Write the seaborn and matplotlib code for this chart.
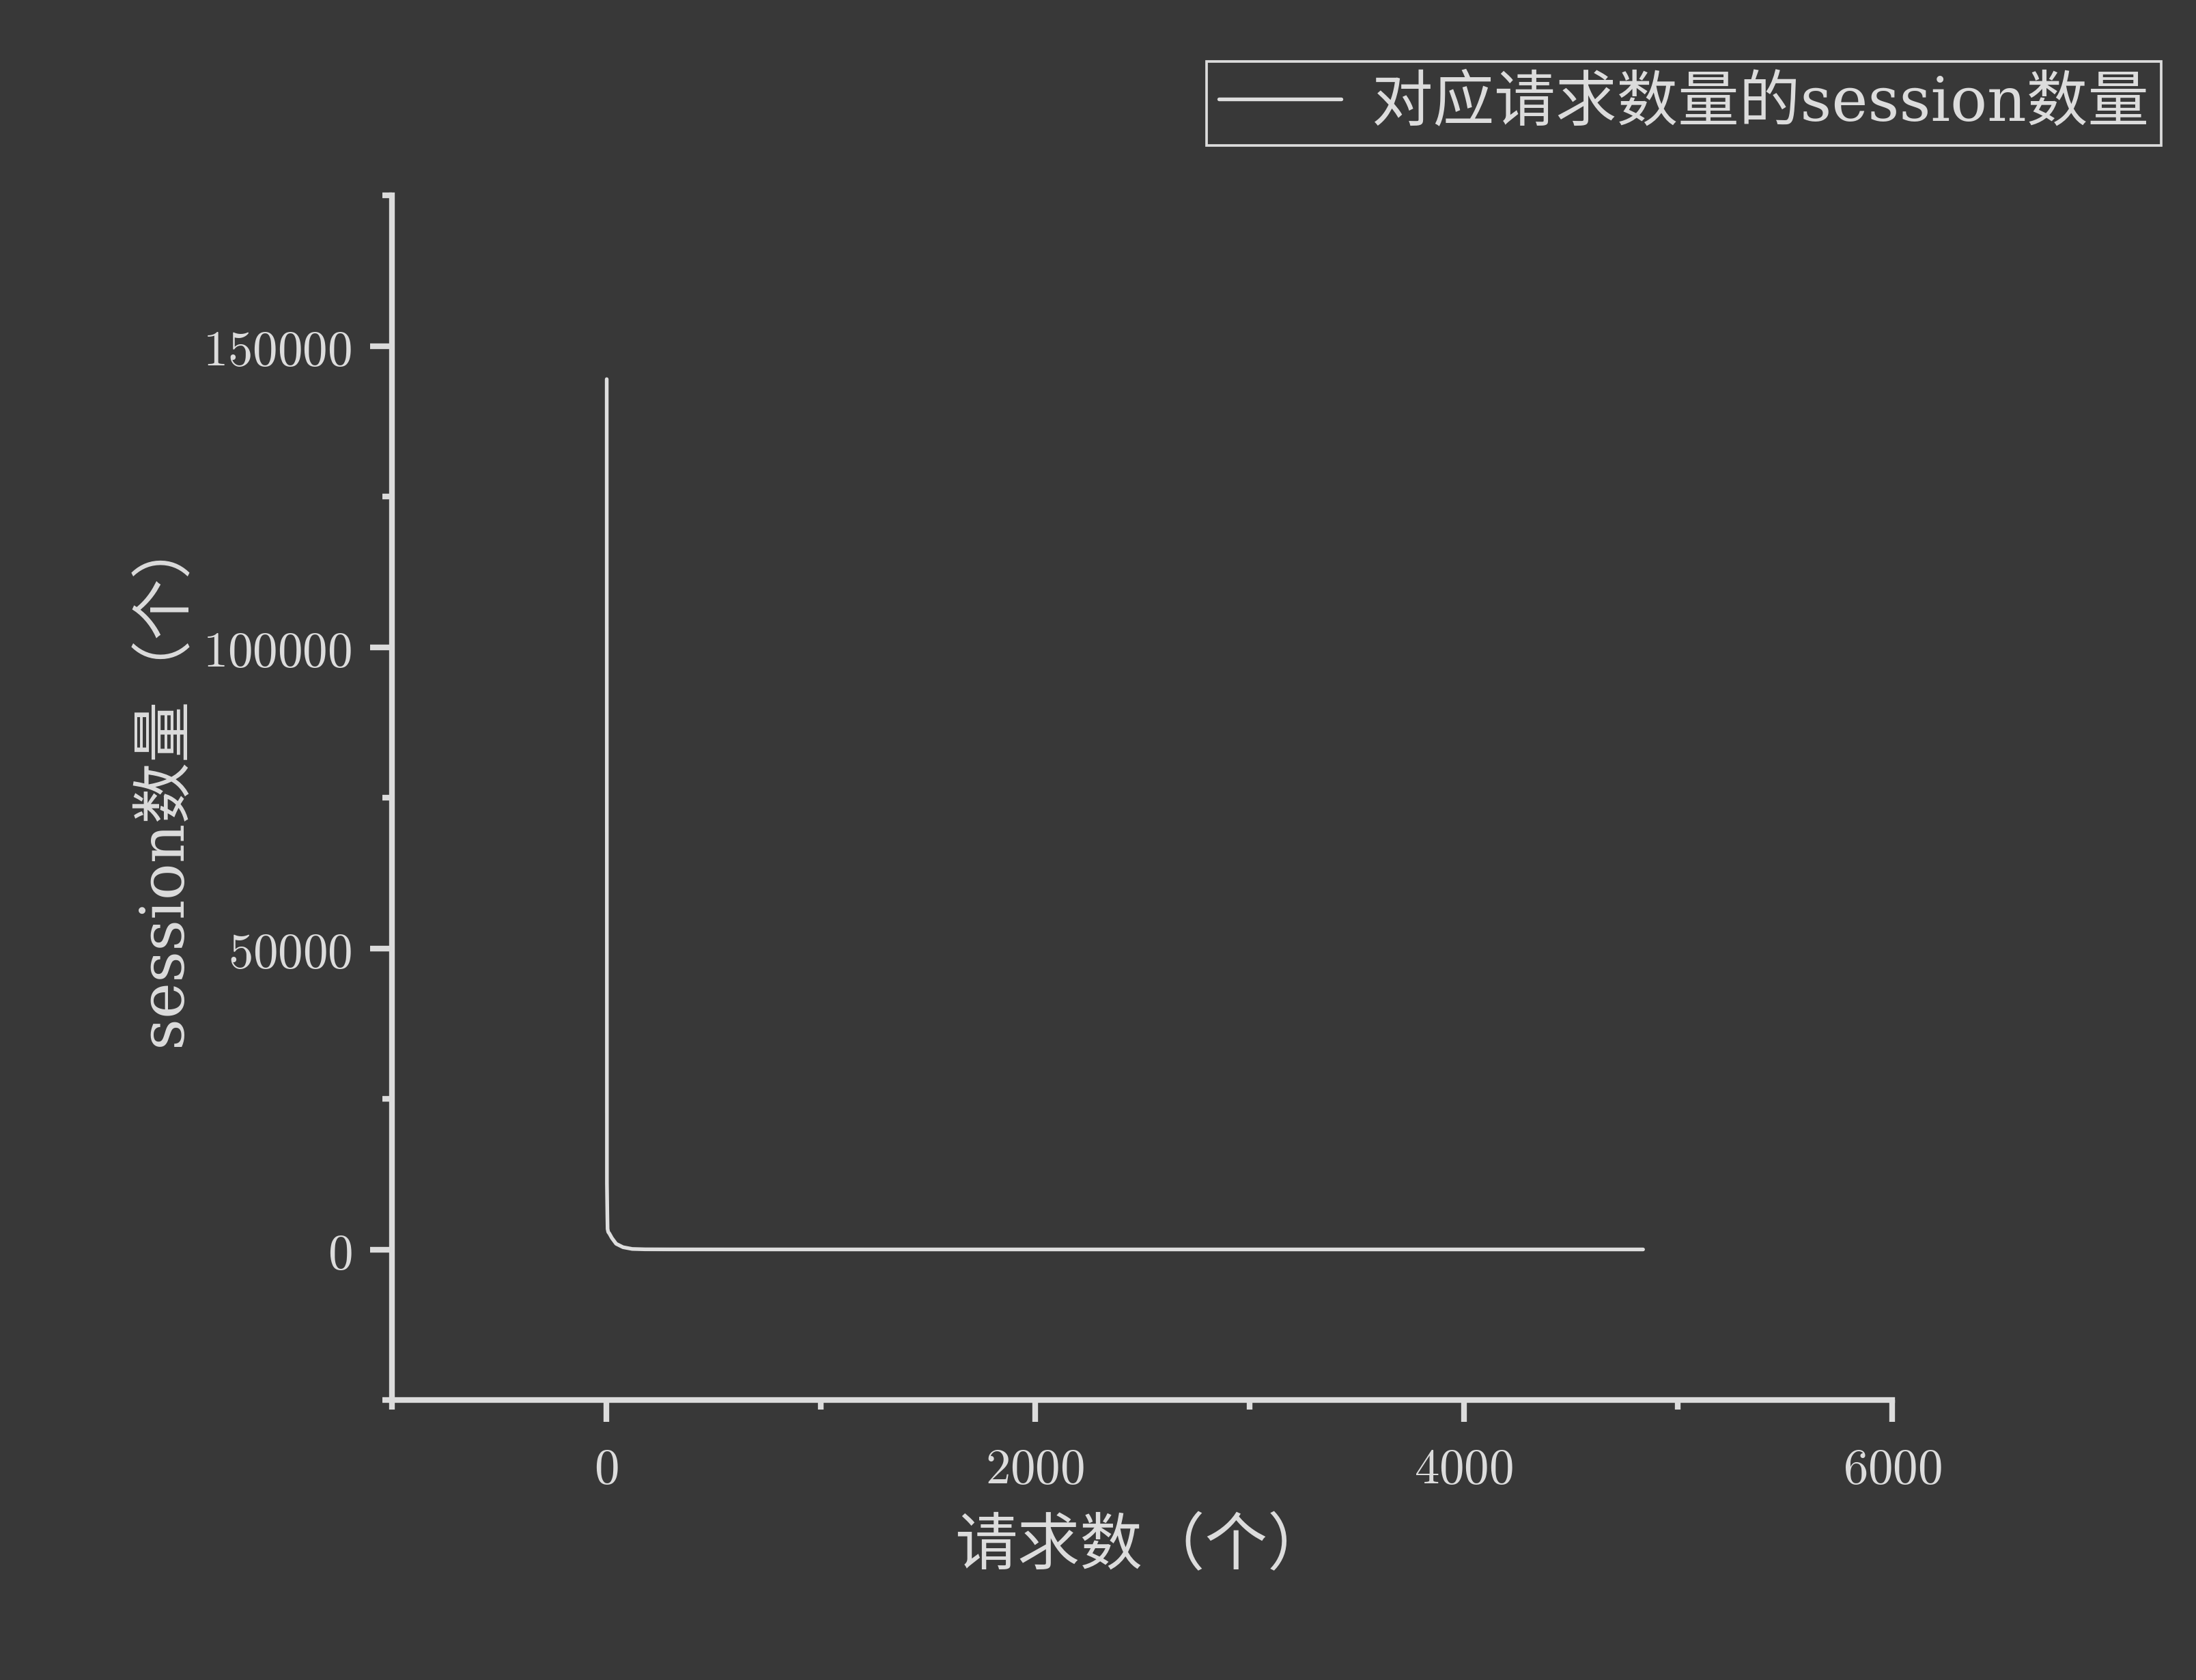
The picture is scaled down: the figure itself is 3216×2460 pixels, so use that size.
import matplotlib
matplotlib.use("Agg")
import matplotlib.pyplot as plt
from matplotlib.ticker import MultipleLocator, FuncFormatter
import seaborn as sns
import pandas as pd

# ---- data ----
requests = [1, 2, 3, 4, 5, 8, 14, 25, 45, 77, 120, 180, 300, 600, 1200, 2500, 4837]
sessions = [144500, 11000, 8150, 5500, 3400, 2900, 2600, 1900, 940, 370, 80, 20, 8, 3, 1, 1, 1]
series_label = "对应请求数量的session数量"
x_label = "请求数（个）"
y_label = "session数量（个）"

BG = "#383838"
FG = "#dcdcdc"

sns.set_theme(style="ticks", rc={
    "figure.facecolor": BG,
    "axes.facecolor": BG,
    "savefig.facecolor": BG,
    "axes.edgecolor": FG,
    "axes.labelcolor": FG,
    "text.color": FG,
    "xtick.color": FG,
    "ytick.color": FG,
})
plt.rcParams["font.family"] = ["DejaVu Serif", "Noto Sans CJK SC"]
plt.rcParams["mathtext.fontset"] = "cm"

df = pd.DataFrame({"requests": requests, "sessions": sessions})

fig = plt.figure(figsize=(10.72, 8.2033), dpi=300)
ax = fig.add_axes([0.1786, 0.1666, 0.8617 - 0.1786, 0.8833 - 0.1666])

sns.lineplot(data=df, x="requests", y="sessions", ax=ax, color="#dedede",
             linewidth=1.3, label=series_label, legend=False)

ax.set_xlim(-1000, 6000)
ax.set_ylim(-25000, 175000)
ax.xaxis.set_major_locator(MultipleLocator(2000))
ax.xaxis.set_minor_locator(MultipleLocator(1000))
ax.yaxis.set_major_locator(MultipleLocator(50000))
ax.yaxis.set_minor_locator(MultipleLocator(25000))
fmt = FuncFormatter(lambda v, p: f"${v:.0f}$")
ax.xaxis.set_major_formatter(fmt)
ax.yaxis.set_major_formatter(fmt)

for side in ("top", "right"):
    ax.spines[side].set_visible(False)
for side in ("left", "bottom"):
    ax.spines[side].set_linewidth(2.0)
    ax.spines[side].set_color(FG)

ax.tick_params(which="major", length=7.7, width=2.0, labelsize=17.5, pad=6.5, colors=FG)
ax.tick_params(which="minor", length=3.3, width=2.0, colors=FG)
ax.tick_params(axis="x", which="major", pad=8)

ax.set_xlabel(x_label, fontsize=22, color=FG, va="center")
ax.set_ylabel(y_label, fontsize=21.5, color=FG, va="center")
ax.xaxis.set_label_coords(0.5, -0.122)
ax.yaxis.set_label_coords(-0.152, 0.515)

handles, labels = ax.get_legend_handles_labels()
leg = fig.legend(handles, labels, loc="upper right", bbox_to_anchor=(0.984, 0.963),
                 bbox_transform=fig.transFigure, borderaxespad=0, fontsize=21.5,
                 frameon=True, fancybox=False, borderpad=0.2, handlelength=2.0,
                 handletextpad=0.5, labelcolor=FG)
frame = leg.get_frame()
frame.set_facecolor(BG)
frame.set_edgecolor(FG)
frame.set_linewidth(0.9)
frame.set_alpha(1)

fig.savefig("out.png", dpi=300, facecolor=BG)
